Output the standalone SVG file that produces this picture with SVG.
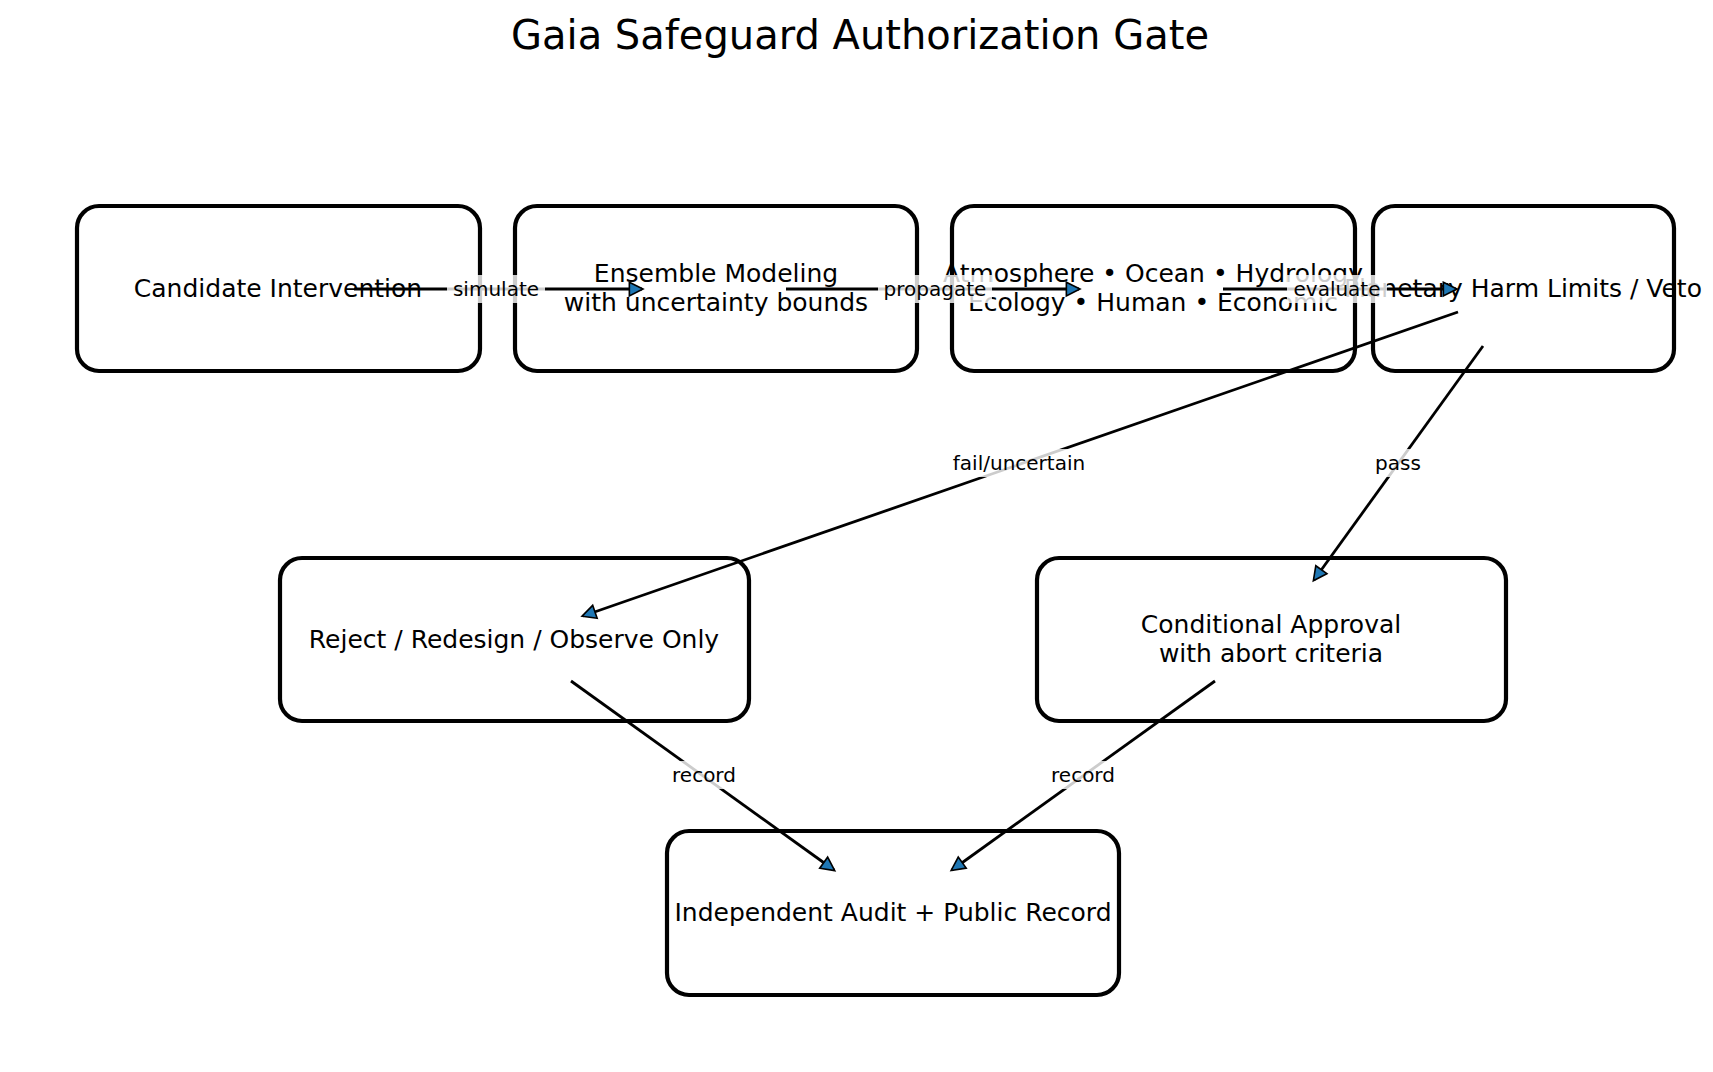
<svg xmlns="http://www.w3.org/2000/svg" width="1713" height="1072" viewBox="0 0 1713 1072">
<style>
.box{fill:#fff;stroke:#000;stroke-width:4.2}
.t{font-family:"DejaVu Sans",sans-serif;font-size:25px;text-anchor:middle;fill:#000}
.e{stroke:#000;stroke-width:2.8;fill:none;marker-end:url(#ah)}
.lb{fill:#fff;opacity:0.8}
.l{font-family:"DejaVu Sans",sans-serif;font-size:20px;text-anchor:middle;fill:#000}
</style>
<defs><marker id="ah" viewBox="0 0 10 10" refX="9" refY="5" markerWidth="8" markerHeight="8" markerUnits="userSpaceOnUse" orient="auto" style="overflow:visible"><path d="M0,0 L10,5 L0,10 Z" transform="scale(1.7) translate(-4,-2)" fill="#1f77b4" stroke="#000" stroke-width="1.2"/></marker></defs>
<rect width="1713" height="1072" fill="#fff"/>
<text x="860" y="49" font-family="DejaVu Sans,sans-serif" font-size="40" text-anchor="middle">Gaia Safeguard Authorization Gate</text>
<g id="n1"><rect class="box" x="77" y="206" width="403" height="165" rx="22"/><text class="t" x="278" y="297">Candidate Intervention</text></g>
<g id="n2"><rect class="box" x="515" y="206" width="402" height="165" rx="22"/><text class="t" x="716" y="282">Ensemble Modeling</text><text class="t" x="716" y="311">with uncertainty bounds</text></g>
<g id="n3"><rect class="box" x="952" y="206" width="403" height="165" rx="22"/><text class="t" x="1153" y="282">Atmosphere • Ocean • Hydrology</text><text class="t" x="1153" y="311">Ecology • Human • Economic</text></g>
<g id="n4"><rect class="box" x="1373" y="206" width="301" height="165" rx="22"/><text class="t" x="1523" y="297">Planetary Harm Limits / Veto</text></g>
<g id="n5"><rect class="box" x="280" y="558" width="469" height="163" rx="22"/><text class="t" x="514" y="648">Reject / Redesign / Observe Only</text></g>
<g id="n6"><rect class="box" x="1037" y="558" width="469" height="163" rx="22"/><text class="t" x="1271" y="633">Conditional Approval</text><text class="t" x="1271" y="662">with abort criteria</text></g>
<g id="n7"><rect class="box" x="667" y="831" width="452" height="164" rx="22"/><text class="t" x="893" y="921">Independent Audit + Public Record</text></g>
<g id="edges">
<line class="e" x1="354" y1="289" x2="642" y2="289"/>
<line class="e" x1="786" y1="289" x2="1079" y2="289"/>
<line class="e" x1="1223" y1="289" x2="1456" y2="289"/>
<line class="e" x1="1458" y1="312" x2="583" y2="616"/>
<line class="e" x1="1483" y1="346" x2="1314" y2="580"/>
<line class="e" x1="571" y1="681" x2="834" y2="870"/>
<line class="e" x1="1215" y1="681" x2="952" y2="870"/>
<rect class="lb" x="447" y="275" width="98" height="28"/><text class="l" x="496" y="296">simulate</text>
<rect class="lb" x="878" y="275" width="114" height="28"/><text class="l" x="935" y="296">propagate</text>
<rect class="lb" x="1287" y="275" width="100" height="28"/><text class="l" x="1337" y="296">evaluate</text>
<rect class="lb" x="948" y="449" width="142" height="28"/><text class="l" x="1019" y="470">fail/uncertain</text>
<rect class="lb" x="1372" y="449" width="52" height="28"/><text class="l" x="1398" y="470">pass</text>
<rect class="lb" x="668" y="761" width="72" height="28"/><text class="l" x="704" y="782">record</text>
<rect class="lb" x="1047" y="761" width="72" height="28"/><text class="l" x="1083" y="782">record</text>
</g>
</svg>
